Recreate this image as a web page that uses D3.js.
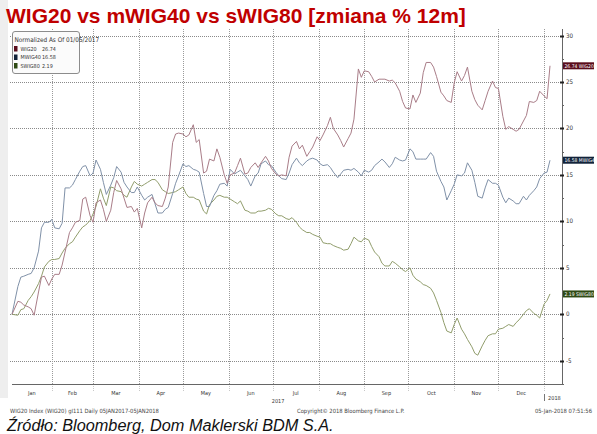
<!DOCTYPE html>
<html>
<head>
<meta charset="utf-8">
<script src="https://cdn.jsdelivr.net/npm/d3@7"></script>
<style>
  body { margin: 0; background: #fff; }
  svg { display: block; }
</style>
</head>
<body>
<div id="chart"></div>
<script>
// Normalized change (%) since 05 Jan 2017, sampled Mon/Wed/Fri
const dates = [
  '2017-01-05',
  '2017-01-09', '2017-01-11', '2017-01-13', '2017-01-16', '2017-01-18', '2017-01-20',
  '2017-01-23', '2017-01-25', '2017-01-27', '2017-01-30', '2017-02-01', '2017-02-03',
  '2017-02-06', '2017-02-08', '2017-02-10', '2017-02-13', '2017-02-15', '2017-02-17',
  '2017-02-20', '2017-02-22', '2017-02-24', '2017-02-27', '2017-03-01', '2017-03-03',
  '2017-03-06', '2017-03-08', '2017-03-10', '2017-03-13', '2017-03-15', '2017-03-17',
  '2017-03-20', '2017-03-22', '2017-03-24', '2017-03-27', '2017-03-29', '2017-03-31',
  '2017-04-03', '2017-04-05', '2017-04-07', '2017-04-10', '2017-04-12', '2017-04-14',
  '2017-04-17', '2017-04-19', '2017-04-21', '2017-04-24', '2017-04-26', '2017-04-28',
  '2017-05-01', '2017-05-03', '2017-05-05', '2017-05-08', '2017-05-10', '2017-05-12',
  '2017-05-15', '2017-05-17', '2017-05-19', '2017-05-22', '2017-05-24', '2017-05-26',
  '2017-05-29', '2017-05-31', '2017-06-02', '2017-06-05', '2017-06-07', '2017-06-09',
  '2017-06-12', '2017-06-14', '2017-06-16', '2017-06-19', '2017-06-21', '2017-06-23',
  '2017-06-26', '2017-06-28', '2017-06-30', '2017-07-03', '2017-07-05', '2017-07-07',
  '2017-07-10', '2017-07-12', '2017-07-14', '2017-07-17', '2017-07-19', '2017-07-21',
  '2017-07-24', '2017-07-26', '2017-07-28', '2017-07-31', '2017-08-02', '2017-08-04',
  '2017-08-07', '2017-08-09', '2017-08-11', '2017-08-14', '2017-08-16', '2017-08-18',
  '2017-08-21', '2017-08-23', '2017-08-25', '2017-08-28', '2017-08-30', '2017-09-01',
  '2017-09-04', '2017-09-06', '2017-09-08', '2017-09-11', '2017-09-13', '2017-09-15',
  '2017-09-18', '2017-09-20', '2017-09-22', '2017-09-25', '2017-09-27', '2017-09-29',
  '2017-10-02', '2017-10-04', '2017-10-06', '2017-10-09', '2017-10-11', '2017-10-13',
  '2017-10-16', '2017-10-18', '2017-10-20', '2017-10-23', '2017-10-25', '2017-10-27',
  '2017-10-30', '2017-11-01', '2017-11-03', '2017-11-06', '2017-11-08', '2017-11-10',
  '2017-11-13', '2017-11-15', '2017-11-17', '2017-11-20', '2017-11-22', '2017-11-24',
  '2017-11-27', '2017-11-29', '2017-12-01', '2017-12-04', '2017-12-06', '2017-12-08',
  '2017-12-11', '2017-12-13', '2017-12-15', '2017-12-18', '2017-12-20', '2017-12-22',
  '2017-12-25', '2017-12-27', '2017-12-29', '2018-01-01', '2018-01-03', '2018-01-05'
];

const wig20 = [
  0,
  1.4, 1.3, 1.0, 0.8, 0.6, -0.1, 2.4, 4.0, 4.1, 3.1, 3.8, 4.3,
  4.3, 5.3, 6.7, 8.8, 9.3, 9.9, 10.1, 12.4, 12.6, 10.6, 9.9, 12.0,
  12.3, 11.3, 10.0, 11.2, 13.1, 14.4, 13.5, 12.5, 11.5, 11.6, 11.0, 11.4,
  9.3, 10.9, 12.0, 12.6, 12.0, 11.7, 11.6, 12.5, 13.7, 18.5, 19.4, 19.5,
  19.4, 19.1, 19.3, 20.4, 18.5, 18.8, 15.2, 15.4, 16.7, 16.5, 17.8, 16.9,
  15.0, 14.1, 15.0, 15.2, 16.0, 16.8, 15.1, 15.2, 15.8, 16.3, 15.8, 16.3,
  17.0, 16.5, 15.7, 15.1, 14.9, 15.0, 14.9, 16.9, 18.1, 18.6, 17.8, 18.2,
  17.0, 17.5, 18.0, 19.1, 18.7, 19.3, 20.3, 21.2, 20.0, 19.3, 18.7, 18.0,
  18.9, 19.5, 21.0, 26.4, 25.5, 26.2, 26.1, 25.6, 25.0, 25.3, 25.3, 25.3,
  25.1, 25.2, 24.9, 24.0, 22.9, 22.2, 22.1, 23.6, 22.8, 23.8, 26.0, 27.1,
  27.1, 26.6, 25.6, 23.9, 23.5, 23.0, 22.8, 24.9, 26.1, 25.1, 25.7, 26.6,
  24.0, 23.1, 22.5, 22.0, 23.0, 24.0, 25.1, 24.4, 24.3, 21.3, 19.9, 20.2,
  19.9, 19.7, 19.9, 20.8, 21.4, 22.9, 22.8, 23.0, 24.0, 23.5, 23.2, 26.74
];

const mwig40 = [
  0,
  3.0, 4.0, 4.1, 4.3, 4.4, 5.0, 6.8, 9.3, 9.9, 9.9, 10.2, 9.3,
  9.2, 9.8, 13.6, 13.6, 13.9, 14.5, 15.4, 15.9, 16.0, 14.9, 15.2, 16.6,
  15.6, 14.2, 12.9, 13.9, 14.7, 15.9, 15.3, 14.2, 13.7, 13.1, 13.1, 13.7,
  12.8, 12.3, 12.6, 12.9, 11.9, 10.9, 10.9, 11.3, 11.5, 13.0, 14.1, 14.9,
  16.2, 15.9, 16.0, 15.6, 15.5, 15.3, 13.0, 11.6, 11.6, 12.8, 13.3, 14.0,
  14.1, 13.8, 15.6, 15.1, 15.3, 15.5, 14.9, 14.5, 13.8, 14.9, 15.2, 16.2,
  16.5, 16.1, 16.0, 15.3, 14.9, 14.6, 14.5, 15.2, 16.1, 16.8, 16.3, 16.0,
  16.5, 16.7, 16.8, 16.6, 16.2, 16.0, 16.1, 15.8, 15.3, 14.7, 15.1, 15.5,
  15.6, 15.5, 15.7, 15.3, 14.9, 15.5, 15.3, 15.5, 16.0, 16.4, 16.7, 16.4,
  15.8, 16.2, 16.9, 16.6, 16.5, 16.6, 17.8, 17.5, 16.7, 16.7, 16.7, 16.7,
  17.4, 17.0, 15.4, 14.3, 13.7, 12.3, 13.3, 14.0, 15.0, 14.9, 15.2, 16.3,
  15.5, 14.2, 12.7, 12.5, 13.6, 14.5, 14.1, 14.1, 13.9, 12.6, 12.0, 12.5,
  12.2, 11.9, 11.9, 12.7, 12.3, 12.8, 13.3, 13.7, 14.6, 15.2, 15.3, 16.58
];

const swig80 = [
  0,
  -0.1, 0.5, 0.6, 1.5, 1.9, 2.4, 3.3, 4.1, 5.1, 5.7, 5.9, 5.9,
  6.0, 6.6, 7.1, 7.6, 7.8, 8.3, 9.0, 9.4, 9.6, 10.1, 10.8, 11.6,
  13.5, 12.5, 11.7, 13.7, 13.6, 13.3, 13.2, 12.8, 12.6, 13.7, 14.3, 14.0,
  13.8, 14.0, 14.2, 14.5, 14.5, 14.2, 13.4, 13.2, 13.0, 13.1, 13.2, 13.4,
  13.7, 13.0, 12.6, 12.6, 12.4, 12.3, 11.1, 10.8, 11.8, 12.3, 12.7, 12.8,
  12.6, 12.6, 12.4, 12.1, 11.9, 12.2, 11.2, 11.1, 10.9, 10.9, 11.1, 11.1,
  11.2, 11.4, 11.3, 10.8, 10.6, 10.6, 10.3, 10.2, 10.4, 9.9, 9.4, 9.1,
  8.8, 8.8, 8.6, 8.4, 8.3, 7.7, 7.6, 7.6, 7.4, 7.2, 7.1, 6.9,
  7.0, 7.6, 8.3, 7.9, 7.8, 8.2, 8.0, 7.3, 6.7, 6.2, 5.5, 5.2,
  5.2, 5.7, 5.5, 5.1, 4.8, 4.6, 5.0, 4.2, 3.8, 3.5, 3.2, 3.1,
  2.8, 2.3, 1.5, 0.2, -0.9, -1.8, -2.0, -1.1, -0.4, -1.6, -2.1, -2.7,
  -3.5, -4.2, -4.4, -3.4, -2.8, -2.3, -2.1, -2.1, -1.6, -1.5, -1.3, -1.1,
  -1.3, -0.9, -0.6, 0.0, 0.4, 0.6, 0.1, -0.1, -0.4, 1.1, 1.5, 2.19
];

const seriesNames = ['WIG20', 'MWIG40', 'SWIG80'];
const lastValues = ['26.74', '16.58', '2.19'];
const yTicks = [-5, 0, 5, 10, 15, 20, 25, 30];
const yMinorTicks = [-7.5, -2.5, 2.5, 7.5, 12.5, 17.5, 22.5, 27.5];
const monthLabels = ['Jan', 'Feb', 'Mar', 'Apr', 'May', 'Jun', 'Jul', 'Aug', 'Sep', 'Oct', 'Nov', 'Dec'];

const W = 597, H = 434;
const lineColors = ['#a97d88', '#8091a8', '#919d6c'];
const tagColors = ['#5a0d1c', '#12233a', '#2f4a14'];
const small = "'Liberation Sans Narrow', 'DejaVu Sans Condensed', 'Liberation Sans', sans-serif";

const parse = d3.timeParse('%Y-%m-%d');
const dateVals = dates.map(parse);

const svg = d3.select('#chart').append('svg')
  .attr('width', W).attr('height', H);

svg.append('rect').attr('width', W).attr('height', H).attr('fill', '#fff');
svg.append('rect').attr('x', 0).attr('y', 0).attr('width', 8).attr('height', 398).attr('fill', '#eeeeee');

// title
svg.append('text')
  .attr('x', 6).attr('y', 23)
  .attr('font-family', "'Liberation Sans', Arial, sans-serif")
  .attr('font-weight', 'bold')
  .attr('font-size', 21)
  .attr('fill', '#c00000')
  .text('WIG20 vs mWIG40 vs sWIG80 [zmiana % 12m]');

const x = d3.scaleTime()
  .domain([dateVals[0], dateVals[dateVals.length - 1]])
  .range([12, 550]);

const y = d3.scaleLinear()
  .domain([-7.5, 30.7])
  .range([384, 29]);

const plotLeft = 12, plotRight = 562, plotTop = 29, plotBottom = 384;

// grid
const monthStarts = d3.timeMonth.range(d3.timeMonth.ceil(dateVals[0]), dateVals[dateVals.length - 1]);

svg.append('g').selectAll('line').data(yTicks).join('line')
  .attr('x1', 10).attr('x2', plotRight)
  .attr('y1', d => Math.round(y(d)) + 0.5).attr('y2', d => Math.round(y(d)) + 0.5)
  .attr('stroke', '#8a8a8a').attr('stroke-width', 1).attr('stroke-dasharray', '1,1');

svg.append('g').selectAll('line').data(monthStarts).join('line')
  .attr('x1', d => Math.round(x(d)) + 0.5).attr('x2', d => Math.round(x(d)) + 0.5)
  .attr('y1', plotTop).attr('y2', plotBottom)
  .attr('stroke', '#9a9a9a').attr('stroke-width', 1).attr('stroke-dasharray', '1,1');

// ticks below the axis
svg.append('g').selectAll('line').data(monthStarts).join('line')
  .attr('x1', d => Math.round(x(d)) + 0.5).attr('x2', d => Math.round(x(d)) + 0.5)
  .attr('y1', plotBottom).attr('y2', plotBottom + 7)
  .attr('stroke', '#c8c8c8').attr('stroke-width', 1).attr('stroke-dasharray', '1,1');

// axis frame
svg.append('line')
  .attr('x1', plotLeft).attr('x2', plotRight)
  .attr('y1', plotBottom + 0.5).attr('y2', plotBottom + 0.5)
  .attr('stroke', '#666');
svg.append('line')
  .attr('x1', plotRight + 0.5).attr('x2', plotRight + 0.5)
  .attr('y1', plotTop).attr('y2', plotBottom)
  .attr('stroke', '#666');

// right axis ticks + labels
svg.append('g').selectAll('line').data(yTicks).join('line')
  .attr('x1', plotRight - 2).attr('x2', plotRight + 2)
  .attr('y1', d => Math.round(y(d)) + 0.5).attr('y2', d => Math.round(y(d)) + 0.5)
  .attr('stroke', '#222').attr('stroke-width', 2);
svg.append('g').selectAll('line').data(yMinorTicks).join('line')
  .attr('x1', plotRight).attr('x2', plotRight + 2)
  .attr('y1', d => Math.round(y(d)) + 0.5).attr('y2', d => Math.round(y(d)) + 0.5)
  .attr('stroke', '#666').attr('stroke-width', 1);
svg.append('g').selectAll('text').data(yTicks).join('text')
  .attr('x', plotRight + 4).attr('y', d => y(d) + 2)
  .attr('font-family', small).attr('font-size', 6.2)
  .attr('fill', '#333')
  .text(d => d);

// month labels centred between month boundaries
const bounds = [dateVals[0], ...monthStarts];
svg.append('g').selectAll('text').data(monthLabels).join('text')
  .attr('x', (d, i) => (x(bounds[i]) + x(bounds[i + 1])) / 2)
  .attr('y', 395)
  .attr('text-anchor', 'middle')
  .attr('font-family', small).attr('font-size', 5.5)
  .attr('fill', '#333')
  .text(d => d);

const jan2018 = monthStarts[monthStarts.length - 1];
svg.append('text')
  .attr('x', (x(dateVals[0]) + x(jan2018)) / 2).attr('y', 403)
  .attr('text-anchor', 'middle')
  .attr('font-family', small).attr('font-size', 5.5).attr('fill', '#333')
  .text('2017');
svg.append('line')
  .attr('x1', Math.round(x(jan2018)) + 0.5).attr('x2', Math.round(x(jan2018)) + 0.5)
  .attr('y1', 394).attr('y2', 401)
  .attr('stroke', '#777');
svg.append('text')
  .attr('x', x(jan2018) + 4).attr('y', 400)
  .attr('font-family', small).attr('font-size', 5.5).attr('fill', '#333')
  .text('2018');

// lines
const allSeries = [wig20, mwig40, swig80];
const line = d3.line()
  .x((d, i) => x(dateVals[i]))
  .y(d => y(d));

svg.append('g').selectAll('path').data([swig80, mwig40, wig20]).join('path')
  .attr('d', d => line(d))
  .attr('fill', 'none')
  .attr('stroke', d => lineColors[allSeries.indexOf(d)])
  .attr('stroke-width', 1)
  .attr('stroke-linejoin', 'round');

// last value tags
const tags = svg.append('g').selectAll('g').data(seriesNames).join('g')
  .attr('transform', (d, i) => `translate(${plotRight + 1},${y(+lastValues[i])})`);
tags.append('rect')
  .attr('x', 0).attr('y', -3.5).attr('width', 31).attr('height', 7)
  .attr('fill', (d, i) => tagColors[i]);
tags.append('text')
  .attr('x', 1.5).attr('y', 1.8)
  .attr('font-family', small).attr('font-size', 5)
  .attr('fill', '#fff')
  .text((d, i) => `${lastValues[i]} ${d}`);

// legend
const leg = svg.append('g');
leg.append('rect')
  .attr('x', 12.5).attr('y', 31.5).attr('width', 67).attr('height', 42)
  .attr('rx', 2.5)
  .attr('fill', '#fbfbfb').attr('stroke', '#8c8c8c');
leg.append('text')
  .attr('x', 14.5).attr('y', 42)
  .attr('font-family', small).attr('font-size', 6.4).attr('fill', '#333')
  .text('Normalized As Of 01/05/2017');
const rows = leg.selectAll('g.row').data(seriesNames).join('g')
  .attr('class', 'row')
  .attr('transform', (d, i) => `translate(0,${50.5 + i * 8.5})`);
rows.append('rect')
  .attr('x', 14).attr('y', -4.5).attr('width', 3.5).attr('height', 5.5)
  .attr('fill', (d, i) => tagColors[i]);
rows.append('text')
  .attr('x', 20.5).attr('y', 0)
  .attr('font-family', small).attr('font-size', 5.4).attr('fill', '#333')
  .text(d => d);
rows.append('text')
  .attr('x', 42).attr('y', 0)
  .attr('font-family', small).attr('font-size', 5.4).attr('fill', '#333')
  .text((d, i) => lastValues[i]);

// footer
svg.append('text')
  .attr('x', 10).attr('y', 413)
  .attr('font-family', small).attr('font-size', 5.8).attr('fill', '#444')
  .text('WIG20 Index (WIG20) gI111  Daily 05JAN2017-05JAN2018');
svg.append('text')
  .attr('x', 297).attr('y', 413)
  .attr('font-family', small).attr('font-size', 5.8).attr('fill', '#444')
  .text('Copyright\u00a9 2018 Bloomberg Finance L.P.');
svg.append('text')
  .attr('x', 592).attr('y', 413)
  .attr('text-anchor', 'end')
  .attr('font-family', small).attr('font-size', 5.8).attr('fill', '#444')
  .text('05-Jan-2018 07:51:56');

svg.append('text')
  .attr('x', 7).attr('y', 431)
  .attr('font-family', "'Liberation Sans', Arial, sans-serif")
  .attr('font-style', 'italic')
  .attr('font-size', 16.3)
  .attr('fill', '#111')
  .text('Źródło: Bloomberg, Dom Maklerski BDM S.A.');
</script>
</body>
</html>
